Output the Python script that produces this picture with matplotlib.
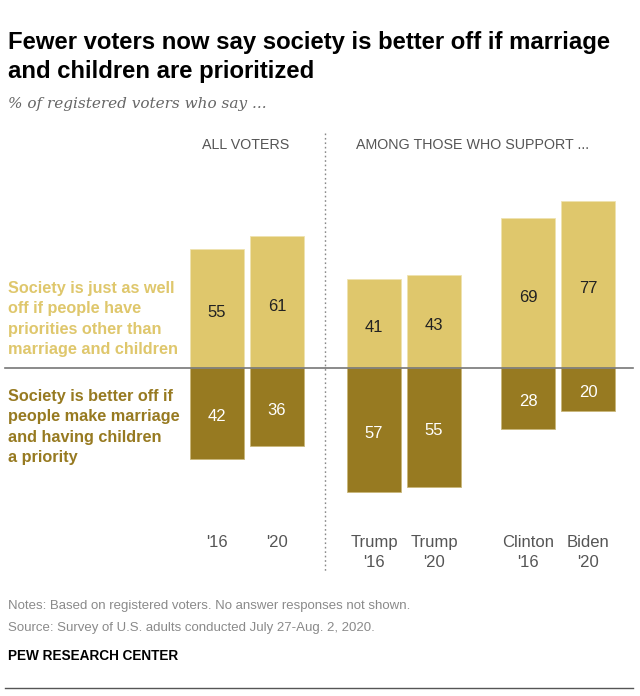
import numpy as np
import matplotlib.pyplot as plt

# data
groups = ["'16", "'20", "Trump\n'16", "Trump\n'20", "Clinton\n'16", "Biden\n'20"]
as_well_off = [55, 61, 41, 43, 69, 77]
better_off = [42, 36, 57, 55, 28, 20]

W, H = 640, 696
LIGHT = '#dfc76c'
DARK = '#977a21'


def fx(x):
    return x / W


def fy(y):
    return 1 - y / H


fig = plt.figure(figsize=(6.4, 6.96), dpi=100)

# axes spans whole figure, x in pixels, y in percent with baseline at y=368px
scale = 2.17
base = 368
ax = fig.add_axes([0, 0, 1, 1])
ax.set_xlim(0, W)
ax.set_ylim(-(H - base) / scale, base / scale)
ax.axis('off')

centers = np.array([217, 277, 374, 434, 528, 588])
bw = 54

ax.bar(centers, as_well_off, width=bw, color=LIGHT, edgecolor='#efe3b0', linewidth=0.6)
ax.bar(centers, [-v for v in better_off], width=bw, color=DARK, edgecolor='#c9b77a', linewidth=0.6)
ax.axhline(0, xmin=fx(5), xmax=fx(633), color='#777777', lw=1.2)

lbl_font = 'Liberation Sans'
for c, a, b in zip(centers, as_well_off, better_off):
    ax.text(c, a / 2 - 2, str(a), ha='center', va='center', fontsize=12,
            color='#222222', family=lbl_font)
    ax.text(c, -b / 2 - 1.5, str(b), ha='center', va='center', fontsize=12,
            color='white', family=lbl_font)

for c, g in zip(centers, groups):
    fig.text(fx(c), fy(535), g, ha='center', va='top', fontsize=12,
             color='#555555', family=lbl_font, linespacing=1.4)

# dotted separator
fig.add_artist(plt.Line2D([fx(325), fx(325)], [fy(133), fy(573)],
                          color='#888888', lw=1, ls=(0, (1.2, 2))))

fig.text(fx(246), fy(145), 'ALL VOTERS', ha='center', va='center',
         fontsize=10.3, color='#555555', family=lbl_font)
fig.text(fx(473), fy(145), 'AMONG THOSE WHO SUPPORT ...', ha='center', va='center',
         fontsize=10.3, color='#555555', family=lbl_font)

# side labels
fig.text(fx(8), fy(319), 'Society is just as well\noff if people have\npriorities other than\nmarriage and children',
         ha='left', va='center', fontsize=11.7, fontweight='bold', color=LIGHT,
         family=lbl_font, linespacing=1.42)
fig.text(fx(8), fy(427), 'Society is better off if\npeople make marriage\nand having children\na priority',
         ha='left', va='center', fontsize=11.7, fontweight='bold', color=DARK,
         family=lbl_font, linespacing=1.42)

# title block
fig.text(fx(8), fy(57), 'Fewer voters now say society is better off if marriage\nand children are prioritized',
         ha='left', va='center', fontsize=17.2, fontweight='bold', color='black',
         family=lbl_font, linespacing=1.3)
fig.text(fx(8), fy(104), '% of registered voters who say ...', ha='left', va='center',
         fontsize=11, style='italic', color='#666666', family='DejaVu Serif')

fig.text(fx(8), fy(606), 'Notes: Based on registered voters. No answer responses not shown.',
         ha='left', va='center', fontsize=9.5, color='#8a8a8a', family=lbl_font)
fig.text(fx(8), fy(628), 'Source: Survey of U.S. adults conducted July 27-Aug. 2, 2020.',
         ha='left', va='center', fontsize=9.5, color='#8a8a8a', family=lbl_font)
fig.text(fx(8), fy(656), 'PEW RESEARCH CENTER', ha='left', va='center',
         fontsize=9.8, fontweight='bold', color='black', family=lbl_font)
fig.add_artist(plt.Line2D([fx(5), fx(633)], [fy(688), fy(688)], color='#555555', lw=1))

fig.savefig('out.png', dpi=100, facecolor='white')
